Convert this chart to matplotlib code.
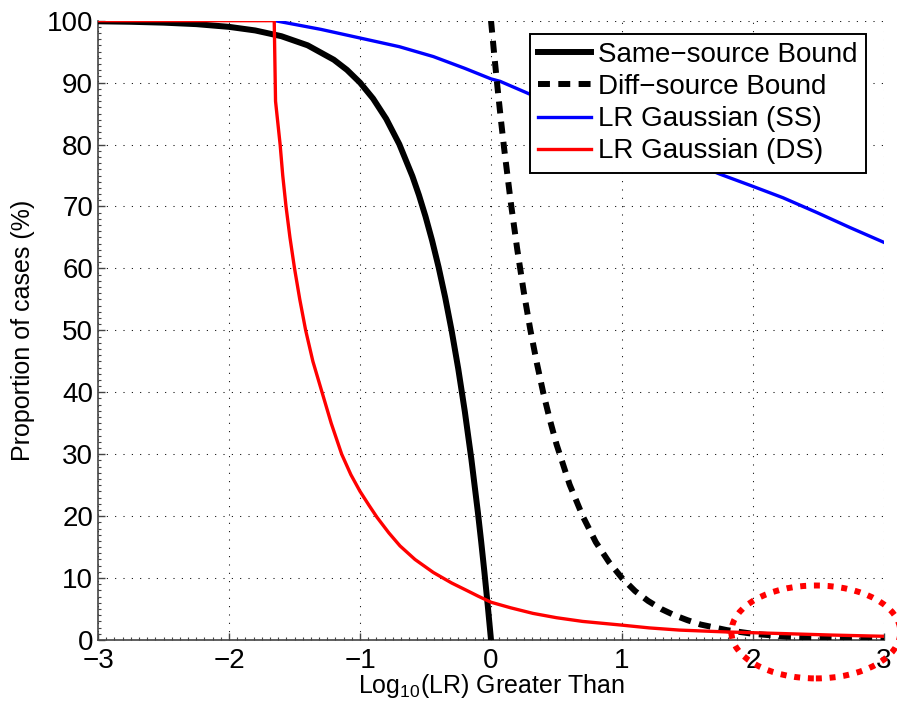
import matplotlib
matplotlib.use('Agg')
import matplotlib.pyplot as plt
from matplotlib.patches import Ellipse
from matplotlib.ticker import MultipleLocator

plt.rcParams['font.family'] = ['Liberation Sans', 'DejaVu Sans']
plt.rcParams['mathtext.default'] = 'regular'

# same-source bound (black solid)
ss_x = [-3.0, -2.75, -2.5, -2.25, -2.0, -1.8, -1.6, -1.4, -1.2, -1.1, -1.0,
        -0.9, -0.8, -0.7, -0.6, -0.55, -0.5, -0.45, -0.4, -0.35, -0.3, -0.25,
        -0.2, -0.15, -0.1, -0.075, -0.05, -0.025, 0.0]
ss_y = [99.9, 99.82, 99.68, 99.44, 99.0, 98.42, 97.49, 96.02, 93.69, 92.06,
        90.0, 87.41, 84.15, 80.05, 74.88, 71.82, 68.38, 64.52, 60.19, 55.33,
        49.88, 43.77, 36.9, 29.21, 20.57, 15.86, 10.87, 5.59, 0.0]

# diff-source bound (black dashed)
ds_x = [0.0, 0.025, 0.05, 0.075, 0.1, 0.15, 0.2, 0.25, 0.3, 0.35, 0.4, 0.45,
        0.5, 0.6, 0.7, 0.8, 0.9, 1.0, 1.1, 1.2, 1.3, 1.4, 1.5, 1.6, 1.8, 2.0,
        2.25, 2.5, 2.75, 3.0]
ds_y = [100.0, 94.4, 89.1, 84.1, 79.4, 70.8, 63.1, 56.2, 50.1, 44.7, 39.8,
        35.5, 31.6, 25.1, 20.0, 15.8, 12.6, 10.0, 7.9, 6.3, 5.0, 4.0, 3.2,
        2.5, 1.6, 1.0, 0.56, 0.32, 0.18, 0.1]

# LR Gaussian same-source (blue)
blue_x = [-1.65, -1.3, -1.0, -0.7, -0.44, -0.2, 0.0, 0.07, 0.3, 0.5, 0.75,
          1.0, 1.25, 1.5, 1.75, 1.98, 2.23, 2.49, 2.74, 3.0]
blue_y = [100.0, 98.6, 97.2, 95.8, 94.2, 92.3, 90.6, 90.2, 88.1, 86.3, 84.1,
          81.8, 79.7, 77.4, 75.2, 73.4, 71.4, 69.0, 66.6, 64.2]

# LR Gaussian diff-source (red)
red_x = [-3.0, -1.655, -1.645, -1.63, -1.61, -1.59, -1.565, -1.535, -1.5,
         -1.46, -1.415, -1.36, -1.29, -1.22, -1.14, -1.07, -1.0, -0.93,
         -0.87, -0.78, -0.695, -0.58, -0.44, -0.3, -0.185, -0.1, 0.0, 0.15,
         0.32, 0.5, 0.7, 0.85, 1.0, 1.21, 1.44, 1.8, 2.21, 2.6, 3.0]
red_y = [100.0, 100.0, 87.0, 84.0, 80.0, 75.0, 70.0, 65.0, 60.0, 55.0, 50.0,
         45.0, 40.0, 35.0, 30.0, 26.7, 24.0, 21.7, 19.8, 17.3, 15.2, 13.0,
         10.9, 9.2, 8.0, 7.1, 6.1, 5.2, 4.3, 3.6, 3.0, 2.7, 2.4, 1.95, 1.6,
         1.3, 1.05, 0.8, 0.6]

labels = ['Same\u2212source Bound', 'Diff\u2212source Bound',
          'LR Gaussian (SS)', 'LR Gaussian (DS)']

fig = plt.figure(figsize=(8.97, 7.03), dpi=100)
ax = fig.add_axes([0.1093, 0.0896, 0.8762, 0.881])

ax.plot(ss_x, ss_y, color='k', lw=4.3, label=labels[0], zorder=4)
ax.plot(ds_x, ds_y, color='k', lw=4.3, ls=(0, (2.0, 1.4)),
        dash_capstyle='butt', label=labels[1], zorder=4)
ax.plot(blue_x, blue_y, color='#0000ff', lw=2.4, label=labels[2], zorder=3)
ax.plot(red_x, red_y, color='#ff0000', lw=2.4, label=labels[3], zorder=5)

ax.set_xlim(-3, 3)
ax.set_ylim(0, 100)
ax.xaxis.set_major_locator(MultipleLocator(1))
ax.yaxis.set_major_locator(MultipleLocator(10))
ax.xaxis.set_minor_locator(MultipleLocator(0.0625))
ax.yaxis.set_minor_locator(MultipleLocator(1))
ax.tick_params(which='both', direction='in', colors='#444444',
               labelcolor='k', labelsize=20, top=False, right=False)
ax.tick_params(which='major', length=5, width=1)
ax.tick_params(which='minor', length=2.5, width=0.8)
ax.tick_params(axis='x', pad=6)

ax.grid(True, which='major', color='k', lw=0.75, ls=(0, (1, 7)))
ax.spines['top'].set_visible(False)
ax.spines['right'].set_visible(False)
for s in ['left', 'bottom']:
    ax.spines[s].set_color('#444444')
    ax.spines[s].set_linewidth(1.2)

ax.set_xlabel('Log$_{10}$(LR) Greater Than', fontsize=18)
ax.set_ylabel('Proportion of cases (%)', fontsize=18)
ax.xaxis.set_label_coords(0.5, -0.052)
ax.yaxis.set_label_coords(-0.08, 0.5)

leg = ax.legend(loc='upper right', bbox_to_anchor=(0.977, 0.979),
                fontsize=20, frameon=True, fancybox=False, framealpha=1,
                borderpad=0.3, labelspacing=0.22, handlelength=1.9,
                handletextpad=0.25, borderaxespad=0)
leg.get_frame().set_edgecolor('k')
leg.get_frame().set_linewidth(1.4)
leg.set_zorder(10)

# dotted highlight ring around the tail
ring = Ellipse((2.48, 1.3), 1.29, 15.0, fill=False, edgecolor='#ff0000',
               lw=4.3, ls=(0, (1, 1.3)), clip_on=False, zorder=11)
ax.add_patch(ring)

fig.savefig('out.png', dpi=100)
